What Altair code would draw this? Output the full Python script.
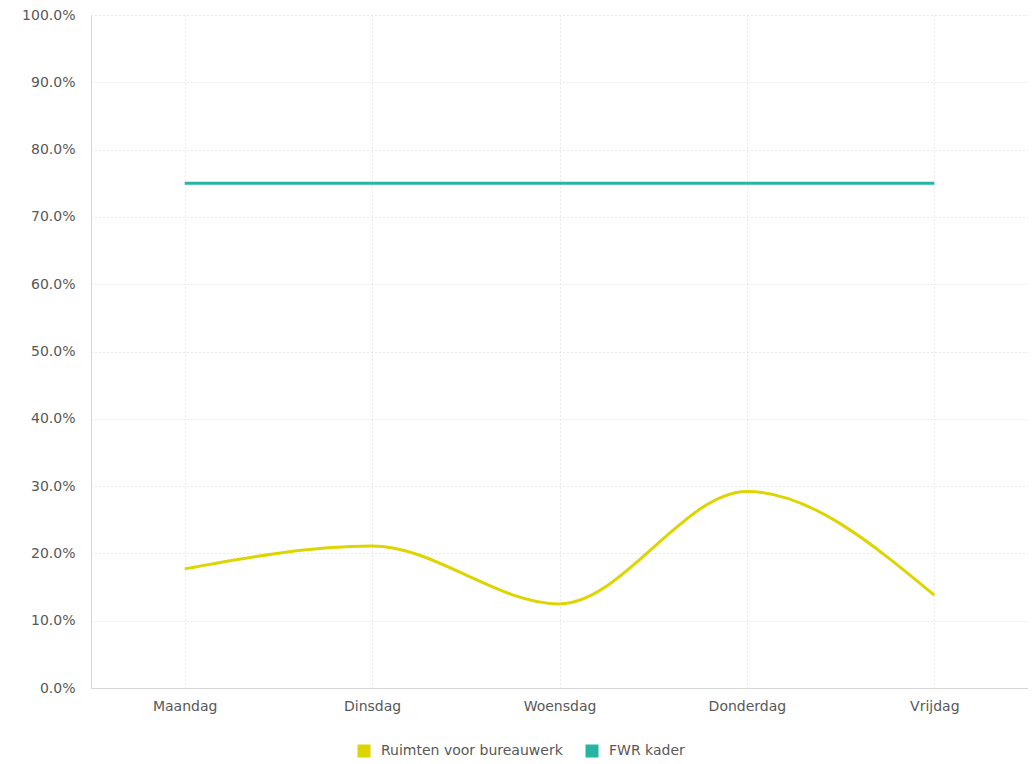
import altair as alt
import pandas as pd

days = ["Maandag", "Dinsdag", "Woensdag", "Donderdag", "Vrijdag"]
ruimten = [0.177, 0.211, 0.125, 0.292, 0.138]
fwr = [0.75, 0.75, 0.75, 0.75, 0.75]
series_names = ["Ruimten voor bureauwerk", "FWR kader"]
series_colors = ["#DDD500", "#26B5A3"]

rows = []
for name, vals in zip(series_names, [ruimten, fwr]):
    for d, v in zip(days, vals):
        rows.append({"dag": d, "waarde": v, "serie": name})
df = pd.DataFrame(rows)

FONT = "DejaVu Sans"
LABEL = "#585858"
GRID = "#d2d2d2"

chart = alt.Chart(df).mark_line(interpolate="monotone", strokeWidth=3).encode(
    x=alt.X("dag:N", sort=days, title=None,
            scale=alt.Scale(type="point", padding=0.5),
            axis=alt.Axis(labelAngle=0, ticks=False, labelPadding=11, grid=True,
                          gridDash=[1, 3], gridColor=GRID, domainColor="#d6d6d6",
                          labelFont=FONT, labelFontSize=14, labelColor=LABEL)),
    y=alt.Y("waarde:Q", title=None,
            scale=alt.Scale(domain=[0, 1], nice=False),
            axis=alt.Axis(format=".1%", values=[i / 10 for i in range(11)], ticks=False,
                          labelPadding=16, gridDash=[1, 3], gridColor=GRID,
                          domainColor="#d6d6d6", labelFont=FONT, labelFontSize=14,
                          labelColor=LABEL)),
    color=alt.Color("serie:N", sort=series_names,
                    scale=alt.Scale(domain=series_names, range=series_colors),
                    legend=alt.Legend(title=None, orient="none", direction="horizontal",
                                      legendX=266, legendY=729,
                                      symbolType="square", symbolSize=36, symbolStrokeWidth=7,
                                      labelFont=FONT, labelFontSize=14, labelColor=LABEL,
                                      labelLimit=400, labelOffset=10, columnPadding=12)),
).properties(
    width=937, height=673,
    autosize=alt.AutoSizeParams(type="none"),
    padding={"left": 83, "top": 7, "right": 0, "bottom": 74},
).configure_view(stroke=None)

chart.save("out.html", embed_options={"renderer": "svg", "actions": False})
